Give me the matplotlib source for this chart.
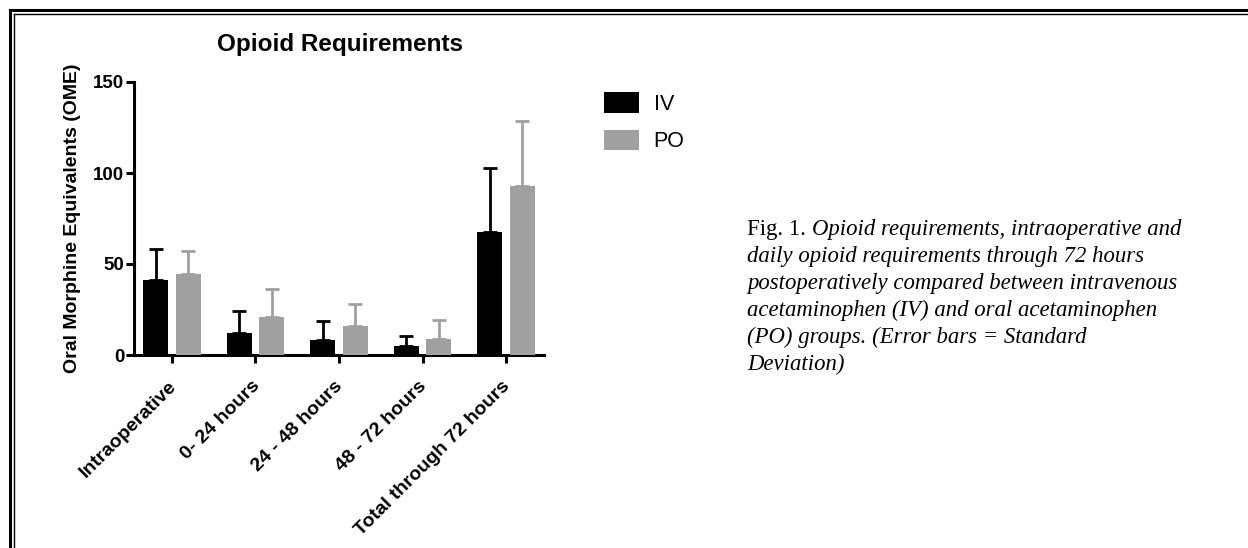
import matplotlib
matplotlib.use("Agg")
import matplotlib.pyplot as plt
import matplotlib.transforms as mtransforms
import numpy as np
from matplotlib.lines import Line2D

categories = ["Intraoperative", "0- 24 hours", "24 - 48 hours", "48 - 72 hours", "Total through 72 hours"]
iv_mean = [41.2, 11.9, 8.2, 4.9, 67.8]
iv_sd = [17.0, 12.5, 10.3, 5.5, 34.8]
po_mean = [44.3, 21.1, 16.1, 8.6, 92.9]
po_sd = [12.8, 15.0, 11.9, 10.6, 35.7]
series_labels = ["IV", "PO"]
yticks = [0, 50, 100, 150]
title = "Opioid Requirements"
ylabel = "Oral Morphine Equivalents (OME)"
caption_lead = "Fig. 1. "
caption_lines = [
    "Opioid requirements, intraoperative and",
    "daily opioid requirements through 72 hours",
    "postoperatively compared between intravenous",
    "acetaminophen (IV) and oral acetaminophen",
    "(PO) groups. (Error bars = Standard",
    "Deviation)",
]

W, H = 1248, 548
fig = plt.figure(figsize=(W / 100, H / 100), dpi=100)
plt.rcParams['font.family'] = ['Liberation Sans', 'DejaVu Sans']

def fx(px):
    return px / W

def fy(py):
    return 1 - py / H

ax = fig.add_axes([fx(134), fy(355), fx(544) - fx(134), fy(82) - fy(355)])

x = np.arange(len(categories))
off = 0.195
bw = 0.30
black = "#000000"
gray = "#a0a0a0"
b1 = ax.bar(x - off, iv_mean, bw, color=black, label=series_labels[0], zorder=3)
b2 = ax.bar(x + off, po_mean, bw, color=gray, label=series_labels[1], zorder=3)
ax.errorbar(x - off, iv_mean, yerr=[np.zeros(len(iv_sd)), iv_sd], fmt="none",
            ecolor=black, elinewidth=2, capsize=5, capthick=2, zorder=2)
ax.errorbar(x + off, po_mean, yerr=[np.zeros(len(po_sd)), po_sd], fmt="none",
            ecolor=gray, elinewidth=2, capsize=5, capthick=2, zorder=2)

ax.set_xlim(-0.455, len(categories) - 1 + 0.455)
ax.set_ylim(0, 150)
ax.set_yticks(yticks)
ax.set_yticklabels([str(t) for t in yticks], fontsize=13.5, fontweight="bold")
ax.set_xticks(x)
ax.set_xticklabels(categories, rotation=45, ha="right", va="center_baseline",
                   rotation_mode="anchor", fontsize=14, fontweight="bold")
shift = mtransforms.ScaledTranslation(-4 / 100, 0, fig.dpi_scale_trans)
for lab in ax.get_xticklabels():
    lab.set_transform(lab.get_transform() + shift)
for s in ["top", "right"]:
    ax.spines[s].set_visible(False)
for s in ["left", "bottom"]:
    ax.spines[s].set_linewidth(2.2)
ax.tick_params(axis="y", width=2.2, length=6, direction="out", pad=1)
ax.tick_params(axis="x", width=2.2, length=6, direction="out", pad=13.5)
ax.set_ylabel(ylabel, fontsize=14, fontweight="bold")
ax.yaxis.set_label_coords(-0.13, 0.5)
fig.text(fx(340), fy(51), title, fontsize=17.5, fontweight="bold",
         ha="center", va="baseline")

leg = ax.legend(handles=[b1, b2], loc="upper left", bbox_to_anchor=(fx(589), fy(77)),
                bbox_transform=fig.transFigure, frameon=False, fontsize=15.5,
                handlelength=1.6, handleheight=1.1, labelspacing=0.7,
                handletextpad=0.7, borderpad=0.2)

# caption
fig.canvas.draw()
r = fig.canvas.get_renderer()
cfont = "Liberation Serif"
csize = 16.4
x0 = 747
base0 = 235
lsp = 27
t0 = fig.text(fx(x0), fy(base0), caption_lead, fontsize=csize, family=cfont,
              va="baseline", ha="left")
bb = t0.get_window_extent(r)
lead_w = bb.width
for i, line in enumerate(caption_lines):
    xx = x0 + (lead_w if i == 0 else 0)
    fig.text(fx(xx), fy(base0 + i * lsp), line, fontsize=csize, family=cfont,
             style="italic", va="baseline", ha="left")

# double border
fig.add_artist(Line2D([fx(9.5), fx(9.5)], [0, fy(9.5)], transform=fig.transFigure, color="black", lw=2.2))
fig.add_artist(Line2D([fx(9.5), 1], [fy(9.5), fy(9.5)], transform=fig.transFigure, color="black", lw=2.2))
fig.add_artist(Line2D([fx(13.5), fx(13.5)], [0, fy(13.5)], transform=fig.transFigure, color="black", lw=1.0))
fig.add_artist(Line2D([fx(13.5), 1], [fy(13.5), fy(13.5)], transform=fig.transFigure, color="black", lw=1.0))

fig.savefig("out.png", dpi=100)
